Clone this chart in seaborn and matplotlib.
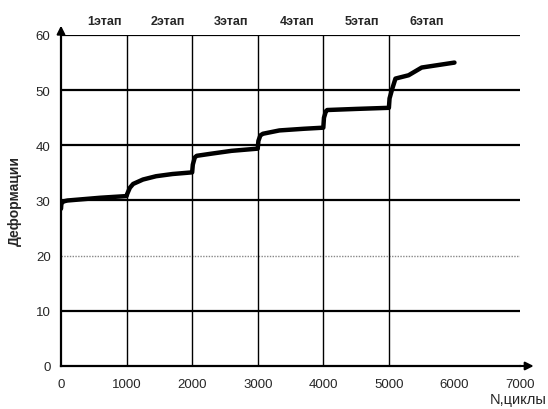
import seaborn as sns
import matplotlib.pyplot as plt
import pandas as pd

# данные
n_cycles = [0, 5, 20, 60, 100, 300, 600, 1000, 1010, 1050, 1100, 1250, 1450, 1700, 2000,
            2010, 2040, 2070, 2300, 2600, 3000, 3010, 3040, 3080, 3330, 3700, 4000,
            4010, 4040, 4060, 4500, 5000, 5010, 5050, 5100, 5300, 5500, 6000]
deform = [28.5, 29.3, 29.7, 29.9, 30.0, 30.2, 30.5, 30.8, 31.2, 32.3, 33.0, 33.8, 34.4, 34.8, 35.1,
          36.5, 37.8, 38.1, 38.5, 39.0, 39.4, 40.8, 41.8, 42.1, 42.7, 43.0, 43.2,
          45.0, 46.2, 46.4, 46.6, 46.8, 48.5, 50.2, 52.1, 52.7, 54.1, 55.0]
stage_names = ["1этап", "2этап", "3этап", "4этап", "5этап", "6этап"]
stage_pos = [670, 1630, 2600, 3600, 4590, 5580]
stage_bounds = [1000, 2000, 3000, 4000, 5000]

df = pd.DataFrame({"N": n_cycles, "D": deform})

sns.set_style("white")
plt.rcParams['font.family'] = ['Liberation Sans', 'DejaVu Sans']
fig = plt.figure(figsize=(5.48, 4.10), dpi=100)
ax = fig.add_axes([0.1113, 0.1049, 0.8377, 0.8073])

# сетка
for yv in [10, 30, 40, 50, 60]:
    ax.axhline(yv, color="black", lw=1.6, zorder=1)
ax.axhline(20, color="#888888", lw=1.0, ls=(0, (1, 1)), zorder=1)
for xv in stage_bounds:
    ax.axvline(xv, color="black", lw=1.0, zorder=1)

sns.lineplot(data=df, x="N", y="D", color="black", lw=3.2, ax=ax, zorder=3,
             estimator=None, sort=False)

ax.set_xlim(0, 7000)
ax.set_ylim(0, 60)
ax.set_xticks(range(0, 7001, 1000))
ax.set_yticks(range(0, 61, 10))
ax.tick_params(axis="both", length=4, width=1.2, labelsize=9.5, direction="out", color="black")
ax.tick_params(axis="x", pad=5)

for s in ["top", "right"]:
    ax.spines[s].set_visible(False)
for s in ["left", "bottom"]:
    ax.spines[s].set_color("black")
    ax.spines[s].set_linewidth(1.6)

# стрелки на осях
ax.annotate("", xy=(7250, 0), xytext=(6950, 0), annotation_clip=False,
            arrowprops=dict(arrowstyle="-|>", color="black", lw=1.5, mutation_scale=12))
ax.annotate("", xy=(0, 62.2), xytext=(0, 59.5), annotation_clip=False,
            arrowprops=dict(arrowstyle="-|>", color="black", lw=1.5, mutation_scale=12))

for name, pos in zip(stage_names, stage_pos):
    ax.text(pos, 62.5, name, ha="center", va="center", fontsize=9, fontweight="bold")

ax.set_xlabel("")
ax.set_ylabel("Деформации", fontsize=10, fontweight="bold", labelpad=10)
fig.text(0.998, 0.008, "N,циклы", ha="right", va="bottom", fontsize=10.5)

fig.savefig("out.png", dpi=100)
